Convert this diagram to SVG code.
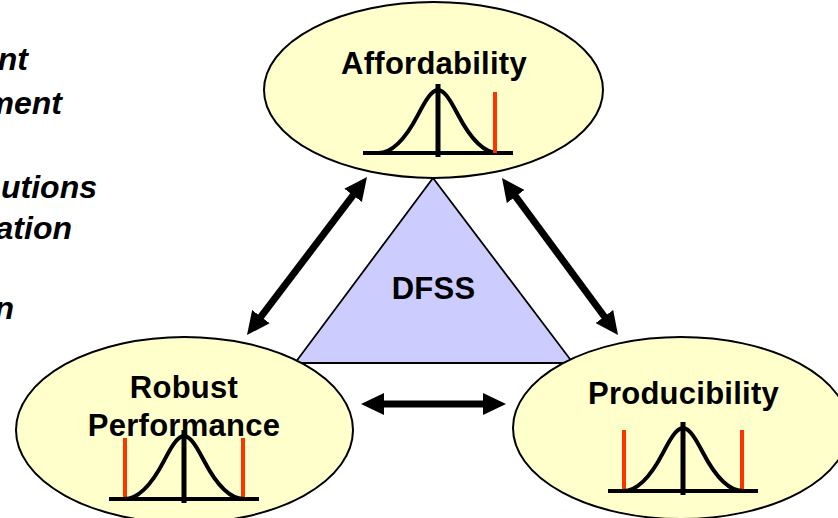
<svg xmlns="http://www.w3.org/2000/svg" xmlns:xlink="http://www.w3.org/1999/xlink" width="838" height="518" viewBox="0 0 838 518">
  <style>
    .node { fill: #FFFFCC; stroke: #000; stroke-width: 2; }
    .core { fill: #CCCCFF; stroke: #000; stroke-width: 1.8; }
    .label { font-family: "Liberation Sans", Arial, sans-serif; font-weight: bold; font-size: 31px; letter-spacing: 0.25px; fill: #000; text-anchor: middle; }
    .side { font-family: "Liberation Sans", Arial, sans-serif; font-weight: bold; font-style: italic; font-size: 32px; fill: #000; text-anchor: end; }
    .curve { fill: none; stroke: #000; stroke-width: 4; }
    .axis { fill: none; stroke: #000; stroke-width: 4; }
    .mean { fill: none; stroke: #000; stroke-width: 5; }
    .limit { fill: none; stroke: #FF3300; stroke-width: 4; }
    .link { fill: none; stroke: #000; stroke-width: 7; marker-start: url(#head); marker-end: url(#head); }
  </style>
  <defs>
    <marker id="head" viewBox="0 0 23 22" refX="13" refY="11" markerWidth="23" markerHeight="22" markerUnits="userSpaceOnUse" orient="auto-start-reverse">
      <path d="M0,0 L23,11 L0,22 z" fill="#000"/>
    </marker>
    <!-- normal distribution glyph, origin at mean on the axis -->
    <g id="bell">
      <path class="axis" d="M-75,0 H75"/>
      <path class="curve" d="M-60,0 C-46.7,0 -33.3,-12.7 -20,-38.2 C-13.3,-51 -6.7,-63 0,-63 C6.7,-63 13.3,-51 20,-38.2 C33.3,-12.7 46.7,0 60,0"/>
      <path class="mean" d="M0,-69 V4"/>
    </g>
    <path id="spec" class="limit" d="M0,-61 V0"/>
  </defs>

  <!-- side text, clipped by the left edge -->
  <g id="side-text">
    <text class="side" x="28" y="70">nt</text>
    <text class="side" x="62" y="114">ment</text>
    <text class="side" x="97" y="198">utions</text>
    <text class="side" x="72" y="239">ation</text>
    <text class="side" x="14" y="319">n</text>
  </g>

  <g id="dfss">
    <polygon class="core" points="433,178 295,363 573,363"/>
    <text class="label" x="433.5" y="299">DFSS</text>
  </g>

  <g id="affordability">
    <ellipse class="node" cx="433.5" cy="90" rx="169.5" ry="88"/>
    <text class="label" x="434" y="74">Affordability</text>
    <use xlink:href="#bell" x="438" y="153"/>
    <use xlink:href="#spec" x="495" y="153"/>
  </g>

  <g id="robust-performance">
    <ellipse class="node" cx="184.5" cy="430" rx="168.5" ry="93"/>
    <text class="label" x="184" y="398">Robust</text>
    <text class="label" x="184" y="436">Performance</text>
    <use xlink:href="#spec" x="125" y="499"/>
    <use xlink:href="#spec" x="243" y="499"/>
    <use xlink:href="#bell" x="184" y="499"/>
  </g>

  <g id="producibility">
    <ellipse class="node" cx="681" cy="428" rx="168" ry="91"/>
    <text class="label" x="683.5" y="404">Producibility</text>
    <use xlink:href="#spec" x="624" y="491"/>
    <use xlink:href="#spec" x="742" y="491"/>
    <use xlink:href="#bell" x="683" y="491"/>
  </g>

  <g id="connectors">
    <line class="link" x1="360.95" y1="184.96" x2="253.05" y2="327.04"/>
    <line class="link" x1="507.94" y1="186.04" x2="612.06" y2="326.96"/>
    <line class="link" x1="371" y1="404" x2="496" y2="404"/>
  </g>
</svg>
